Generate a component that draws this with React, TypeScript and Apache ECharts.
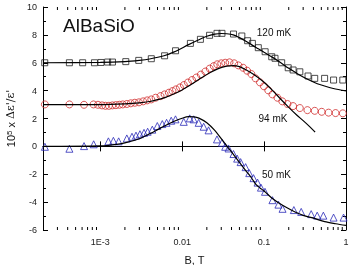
import React, { useEffect, useRef } from 'react';
import * as echarts from 'echarts';

// ---------- data ----------
const X_MIN = 2e-4;
const X_MAX = 1;
const Y_MIN = -6;
const Y_MAX = 10;

const xTickLabels: Record<string, string> = { '-3': '1E-3', '-2': '0.01', '-1': '0.1', '0': '1' };

// 120 mK (squares)
const sqB = [2.1e-4, 4.2e-4, 6.1e-4, 8.5e-4, 1.02e-3, 1.23e-3, 1.41e-3, 2.05e-3, 2.95e-3, 4.2e-3, 6.1e-3, 8.3e-3, 1.26e-2, 1.67e-2, 2.16e-2, 2.66e-2, 3.06e-2, 4.23e-2, 5.35e-2, 6.3e-2, 7.2e-2, 8.5e-2, 0.103, 0.124, 0.136, 0.164, 0.197, 0.226, 0.273, 0.344, 0.415, 0.548, 0.705, 0.914];
const sqY = [6.0, 6.0, 6.0, 6.0, 6.02, 6.05, 6.05, 6.08, 6.17, 6.29, 6.5, 6.86, 7.39, 7.68, 7.97, 8.11, 8.11, 8.06, 7.92, 7.58, 7.39, 7.08, 6.79, 6.43, 6.32, 6.0, 5.64, 5.48, 5.35, 5.05, 4.88, 4.88, 4.76, 4.76];

// 94 mK (circles)
const ciB = [2.11e-4, 4.2e-4, 6.34e-4, 8.27e-4, 9.38e-4, 1.05e-3, 1.157e-3, 1.275e-3, 1.406e-3, 1.55e-3, 1.71e-3, 1.886e-3, 2.11e-3, 2.36e-3, 2.64e-3, 2.97e-3, 3.34e-3, 3.74e-3, 4.2e-3, 4.74e-3, 5.45e-3, 6.1e-3, 6.88e-3, 7.62e-3, 8.41e-3, 9.4e-3, 1.05e-2, 1.175e-2, 1.32e-2, 1.49e-2, 1.69e-2, 1.92e-2, 2.17e-2, 2.43e-2, 2.68e-2, 3.0e-2, 3.35e-2, 3.78e-2, 4.31e-2, 4.86e-2, 5.55e-2, 6.2e-2, 7.0e-2, 7.87e-2, 8.91e-2, 9.97e-2, 0.1125, 0.1265, 0.1455, 0.167, 0.193, 0.226, 0.273, 0.338, 0.415, 0.505, 0.613, 0.746, 0.915];
const ciY = [3.01, 3.01, 2.985, 3.01, 2.985, 2.94, 2.91, 2.91, 2.94, 2.96, 2.985, 3.01, 3.04, 3.09, 3.13, 3.16, 3.23, 3.3, 3.37, 3.49, 3.61, 3.73, 3.85, 3.97, 4.09, 4.23, 4.4, 4.58, 4.76, 4.94, 5.15, 5.37, 5.58, 5.76, 5.89, 5.96, 6.0, 6.03, 5.96, 5.81, 5.64, 5.43, 5.19, 4.88, 4.59, 4.31, 4.02, 3.73, 3.49, 3.23, 3.04, 2.89, 2.75, 2.6, 2.55, 2.48, 2.42, 2.39, 2.37];

// 50 mK (triangles)
const trB = [2.11e-4, 4.2e-4, 6.34e-4, 8.31e-4, 1.257e-3, 1.446e-3, 1.677e-3, 2.11e-3, 2.44e-3, 2.73e-3, 3.05e-3, 3.42e-3, 3.79e-3, 4.32e-3, 4.97e-3, 5.72e-3, 6.45e-3, 7.35e-3, 8.29e-3, 1.045e-2, 1.236e-2, 1.38e-2, 1.59e-2, 1.83e-2, 2.1e-2, 2.66e-2, 3.06e-2, 3.35e-2, 3.68e-2, 4.23e-2, 4.69e-2, 5.17e-2, 5.95e-2, 6.59e-2, 7.43e-2, 8.32e-2, 9.16e-2, 0.1026, 0.1265, 0.1496, 0.168, 0.231, 0.284, 0.376, 0.445, 0.529, 0.705, 0.933];
const trY = [-0.03, -0.17, 0.02, 0.15, 0.36, 0.4, 0.36, 0.57, 0.69, 0.77, 0.87, 0.97, 1.05, 1.2, 1.46, 1.6, 1.69, 1.84, 1.94, 1.76, 2.01, 1.94, 1.69, 1.41, 1.15, 0.5, 0.26, -0.03, -0.15, -0.55, -0.88, -1.13, -1.49, -1.92, -2.28, -2.6, -2.96, -3.26, -3.86, -4.18, -4.48, -4.57, -4.7, -4.86, -4.97, -4.97, -5.11, -5.11];

// fitted curves
const fit120B = [2e-4, 1e-3, 2e-3, 3e-3, 4e-3, 6e-3, 8e-3, 1.2e-2, 1.6e-2, 2e-2, 2.5e-2, 3e-2, 3.5e-2, 4.2e-2, 5e-2, 6e-2, 7e-2, 8.5e-2, 0.1, 0.13, 0.16, 0.2, 0.25, 0.3, 0.4, 0.5, 0.7, 1];
const fit120Y = [6.0, 6.02, 6.08, 6.17, 6.27, 6.5, 6.78, 7.3, 7.65, 7.9, 8.05, 8.1, 8.08, 8.0, 7.8, 7.55, 7.3, 7.0, 6.75, 6.35, 6.0, 5.6, 5.25, 4.98, 4.62, 4.4, 4.15, 3.98];

const fit94B = [2e-4, 1e-3, 2e-3, 3e-3, 4e-3, 5e-3, 6e-3, 8e-3, 1e-2, 1.3e-2, 1.7e-2, 2.2e-2, 2.8e-2, 3.5e-2, 4.2e-2, 5e-2, 6e-2, 7.5e-2, 0.1, 0.13, 0.16, 0.2, 0.25, 0.3, 0.36, 0.42];
const fit94Y = [3.0, 3.0, 3.05, 3.12, 3.22, 3.35, 3.48, 3.78, 4.05, 4.45, 4.9, 5.3, 5.6, 5.76, 5.8, 5.72, 5.5, 5.15, 4.6, 3.95, 3.38, 2.8, 2.25, 1.85, 1.42, 1.02];

const fit50B = [2e-4, 1e-3, 1.5e-3, 2e-3, 3e-3, 4e-3, 5e-3, 6e-3, 8e-3, 1e-2, 1.2e-2, 1.4e-2, 1.6e-2, 2e-2, 2.5e-2, 3e-2, 4e-2, 5e-2, 6e-2, 7e-2, 8e-2, 9e-2, 0.1, 0.13, 0.17, 0.22, 0.3, 0.4, 0.55, 0.75, 1];
const fit50Y = [0.0, 0.03, 0.12, 0.25, 0.55, 0.9, 1.2, 1.45, 1.8, 2.02, 2.13, 2.12, 2.03, 1.7, 1.15, 0.55, -0.4, -1.15, -1.75, -2.25, -2.75, -3.0, -3.2, -3.8, -4.25, -4.6, -4.95, -5.15, -5.4, -5.55, -5.67];

const minorXTicks: number[] = [];
for (let e = -4; e <= -1; e++) {
  for (let k = 2; k <= 9; k++) {
    const v = k * Math.pow(10, e);
    if (v > X_MIN * 1.0001 && v < X_MAX) minorXTicks.push(v);
  }
}

const zip = (a: number[], b: number[]) => a.map((v, i) => [v, b[i]]);

const FONT = 'Liberation Sans, Arial, sans-serif';

export default function App() {
  const ref = useRef<HTMLDivElement>(null);
  useEffect(() => {
    const chart = echarts.init(ref.current!, null, { renderer: 'svg' });
    const axisLine = { show: true, lineStyle: { color: '#000', width: 1 } };
    const baseX = {
      type: 'log' as const,
      logBase: 10,
      min: X_MIN,
      max: X_MAX,
      axisLine,
      splitLine: { show: false },
      axisTick: { inside: true, length: 5, lineStyle: { color: '#000' } },
    };
    const baseY = {
      type: 'value' as const,
      min: Y_MIN,
      max: Y_MAX,
      interval: 2,
      axisLine,
      splitLine: { show: false },
      axisTick: { inside: true, length: 5, lineStyle: { color: '#000' } },
      minorTick: { show: true, splitNumber: 2, length: 3, lineStyle: { color: '#000' } },
    };
    const option: any = {
      animation: false,
      grid: { left: 43, right: 9, top: 7, bottom: 35, containLabel: false, outerBoundsMode: 'none' },
      xAxis: [
        {
          ...baseX,
          position: 'bottom',
          name: 'B, T',
          nameLocation: 'middle',
          nameGap: 24,
          nameTextStyle: { color: '#111', fontSize: 11, fontFamily: FONT },
          axisLabel: {
            color: '#222',
            fontSize: 9,
            fontFamily: FONT,
            margin: 7,
            formatter: (v: number) => {
              const l = Math.round(Math.log10(v));
              if (Math.abs(Math.log10(v) - l) > 1e-6) return '';
              return xTickLabels[String(l)] ?? '';
            },
          },
        },
        { ...baseX, position: 'top', axisLabel: { show: false } },
      ],
      yAxis: [
        {
          ...baseY,
          position: 'left',
          name: '{a|10}{s|5}{a| x }{g|\u0394\u03b5\'/\u03b5\'}',
          nameLocation: 'middle',
          nameRotate: 90,
          nameGap: 25,
          nameTextStyle: {
            color: '#111',
            rich: {
              a: { fontSize: 11, fontFamily: FONT, color: '#111' },
              s: { fontSize: 8, fontFamily: FONT, color: '#111', verticalAlign: 'top' },
              g: { fontSize: 11, fontFamily: 'DejaVu Serif, serif', color: '#111' },
            },
          },
          axisLabel: { color: '#222', fontSize: 9, fontFamily: FONT, margin: 6 },
        },
        { ...baseY, position: 'right', axisLabel: { show: false } },
      ],
      graphic: [
        { type: 'text', left: 63, top: 16, style: { text: 'AlBaSiO', fontSize: 19, fontFamily: FONT, fill: '#111' } },
        { type: 'text', x: 274, y: 32, style: { text: '120 mK', fontSize: 10, fontFamily: FONT, fill: '#111', textAlign: 'center', textVerticalAlign: 'middle' } },
        { type: 'text', x: 273, y: 118.5, style: { text: '94 mK', fontSize: 10, fontFamily: FONT, fill: '#111', textAlign: 'center', textVerticalAlign: 'middle' } },
        { type: 'text', x: 276.5, y: 174, style: { text: '50 mK', fontSize: 10, fontFamily: FONT, fill: '#111', textAlign: 'center', textVerticalAlign: 'middle' } },
      ],
      series: [
        {
          type: 'custom',
          name: 'minorTicks',
          silent: true,
          data: minorXTicks.map((v) => [v]),
          encode: { x: 0 },
          renderItem: (params: any, api: any) => {
            const b = api.value(0);
            const pb = api.coord([b, Y_MIN]);
            const pt = api.coord([b, Y_MAX]);
            return {
              type: 'group',
              children: [
                { type: 'line', shape: { x1: pb[0], y1: pb[1], x2: pb[0], y2: pb[1] - 3 }, style: { stroke: '#000', lineWidth: 1 } },
                { type: 'line', shape: { x1: pt[0], y1: pt[1], x2: pt[0], y2: pt[1] + 3 }, style: { stroke: '#000', lineWidth: 1 } },
              ],
            };
          },
          clip: false,
        },
        {
          type: 'scatter', name: '120 mK', data: zip(sqB, sqY), symbol: 'rect', symbolSize: 6,
          itemStyle: { color: 'rgba(0,0,0,0)', borderColor: '#222', borderWidth: 1 },
        },
        {
          type: 'scatter', name: '94 mK', data: zip(ciB, ciY), symbol: 'circle', symbolSize: 7,
          itemStyle: { color: 'rgba(0,0,0,0)', borderColor: '#d02b2b', borderWidth: 1 },
        },
        {
          type: 'scatter', name: '50 mK', data: zip(trB, trY), symbol: 'triangle', symbolSize: 7,
          itemStyle: { color: 'rgba(0,0,0,0)', borderColor: '#2b2bb8', borderWidth: 1 },
        },
        { type: 'line', name: 'fit 120', data: zip(fit120B, fit120Y), showSymbol: false, smooth: 0.3, lineStyle: { color: '#000', width: 1.2 } },
        { type: 'line', name: 'fit 94', data: zip(fit94B, fit94Y), showSymbol: false, smooth: 0.3, lineStyle: { color: '#000', width: 1.2 } },
        { type: 'line', name: 'fit 50', data: zip(fit50B, fit50Y), showSymbol: false, smooth: 0.3, lineStyle: { color: '#000', width: 1.2 } },
      ],
    };
    chart.setOption(option);
    return () => chart.dispose();
  }, []);
  return <div ref={ref} style={{ position: 'fixed', left: 0, top: 0, width: 355, height: 265 }} />;
}
